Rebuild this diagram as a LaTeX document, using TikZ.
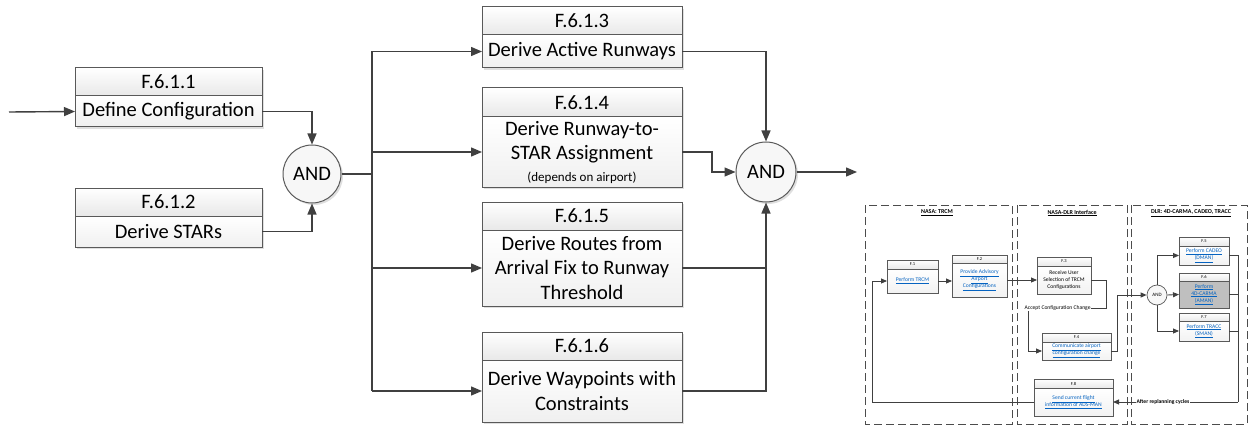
\documentclass[tikz,border=0pt]{standalone}
\usepackage{fontspec}
\setmainfont{Carlito}
\usetikzlibrary{arrows.meta,positioning,shadows}

\definecolor{wiregray}{HTML}{404040}
\definecolor{boxgray}{HTML}{595959}
\definecolor{linkblue}{HTML}{0563C1}
\newcommand{\lnk}[1]{\textcolor{linkblue}{\underline{#1}}}

\begin{document}
\begin{tikzpicture}[x=1pt,y=-1pt,>={Triangle[length=11pt,width=9pt]},
    wire/.style={draw=wiregray,line width=1.4pt},
    hdr/.style={draw=boxgray,line width=1pt,top color=white,bottom color=gray!18,
      minimum width=200,minimum height=28,inner sep=0pt,outer sep=0pt,anchor=north west,
      font=\fontsize{20.5}{24.5}\selectfont,
      drop shadow={shadow xshift=2pt,shadow yshift=-2pt,opacity=0.25}},
    body/.style={draw=boxgray,line width=1pt,top color=white,bottom color=gray!12,
      minimum width=200,align=center,inner sep=2pt,outer sep=0pt,
      font=\fontsize{20.5}{24.5}\selectfont,
      drop shadow={shadow xshift=2pt,shadow yshift=-2pt,opacity=0.25}},
    gate/.style={circle,draw=boxgray,line width=1pt,fill=gray!6,inner sep=0pt,
      font=\fontsize{20.5}{24.5}\selectfont,
      drop shadow={shadow xshift=2pt,shadow yshift=-2pt,opacity=0.25}},
    lane/.style={draw=gray!60!black,line width=1pt,dash pattern=on 8pt off 4pt},
    lanetitle/.style={font=\bfseries\fontsize{6}{7}\selectfont},
    iwire/.style={draw=wiregray,line width=0.9pt},
    ihdr/.style={draw=boxgray,line width=0.7pt,top color=white,bottom color=gray!18,
      inner sep=0pt,outer sep=0pt,anchor=north west,font=\fontsize{4.5}{5}\selectfont,
      drop shadow={shadow xshift=1pt,shadow yshift=-1pt,opacity=0.25}},
    ibody/.style={draw=boxgray,line width=0.7pt,top color=white,bottom color=gray!10,
      align=center,inner sep=1pt,outer sep=0pt,font=\fontsize{5.6}{7}\selectfont,
      drop shadow={shadow xshift=1pt,shadow yshift=-1pt,opacity=0.25}},
    igate/.style={circle,draw=boxgray,line width=0.7pt,fill=gray!6,inner sep=0pt,
      minimum size=20,font=\fontsize{5}{6}\selectfont},
    ilabel/.style={fill=white,inner sep=0.5pt,font=\fontsize{5.6}{7}\selectfont}]
\useasboundingbox (0,0) rectangle (1250,425);

% sub-functions of F.6.1
\coordinate (in) at (9,112);
\node[hdr,minimum width=187] (h611) at (75,68) {F.6.1.1};
\node[body,minimum width=187,minimum height=31,below=0pt of h611] (b611) {Define Configuration};
\node[hdr,minimum width=187] (h612) at (75,188) {F.6.1.2};
\node[body,minimum width=187,minimum height=31,below=0pt of h612] (b612) {Derive STARs};
\node[gate,minimum size=58] (and1) at (312,174) {AND};
\coordinate (bus) at (372,174);

\node[hdr] (h613) at (482,7) {F.6.1.3};
\node[body,minimum height=33,below=0pt of h613] (b613) {Derive Active Runways};
\node[hdr,minimum height=29] (h614) at (482,88) {F.6.1.4};
\node[body,minimum height=70,below=0pt of h614] (b614)
  {Derive Runway-to-\\STAR Assignment\\[-3pt]{\fontsize{13}{15}\selectfont (depends on airport)}};
\node[hdr] (h615) at (482,202) {F.6.1.5};
\node[body,minimum height=76,below=0pt of h615] (b615)
  {Derive Routes from\\Arrival Fix to Runway\\Threshold};
\node[hdr] (h616) at (482,332) {F.6.1.6};
\node[body,minimum height=62,below=0pt of h616] (b616) {Derive Waypoints with\\Constraints};
\node[gate,minimum size=60] (and2) at (766,172) {AND};
\coordinate (out) at (857,172);

\draw[wire,->] (in) -- (b611.west);
\draw[wire,->] (b611.east) -| (and1.north);
\draw[wire,->] (b612.east) -| (and1.south);
\draw[wire] (and1.east) -- (bus);
\draw[wire] (bus |- b613.west) -- (bus |- b616.west);
\foreach \b in {b613,b614,b615,b616}
  \draw[wire,->] (bus |- \b.west) -- (\b.west);
\draw[wire,->] (b613.east) -| (and2.north);
\draw[wire,->] (b614.east) -- ++(30,0) |- (and2.west);
\draw[wire] (b615.east) -- (b615.east -| and2.south);
\draw[wire,->] (b616.east) -| (and2.south);
\draw[wire,->] (and2.east) -- (out);

% overview of the F functions
\begin{scope}[>={Triangle[length=6pt,width=5pt]}]
\draw[lane] (865,205) rectangle (1012,424);
\draw[lane] (1017,205) rectangle (1127,424);
\draw[lane] (1131,205) rectangle (1247,424);
\node[lanetitle] (t1) at (937,213) {\underline{NASA: TRCM}};
\node[lanetitle] (t2) at (1072,213) {\underline{NASA-DLR Interface}};
\node[lanetitle] (t3) at (1191,213) {\underline{DLR: 4D-CARMA, CADEO, TRACC}};

\node[ihdr,minimum width=51,minimum height=9] (h1) at (887,260) {F.1};
\node[ibody,minimum width=51,minimum height=24,below=0pt of h1] (b1) {\lnk{Perform TRCM}};
\node[ihdr,minimum width=55,minimum height=8] (h2) at (952,255) {F.2};
\node[ibody,minimum width=55,minimum height=34,below=0pt of h2] (b2)
  {\lnk{Provide Advisory}\\\lnk{Airport}\\\lnk{Configurations}};
\node[ihdr,minimum width=54,minimum height=9] (h3) at (1037,257) {F.3};
\node[ibody,minimum width=54,minimum height=28,below=0pt of h3] (b3)
  {Receive User\\Selection of TRCM\\Configurations};
\node[ihdr,minimum width=69,minimum height=9] (h4) at (1042,333) {F.4};
\node[ibody,minimum width=69,minimum height=18,below=0pt of h4] (b4)
  {\lnk{Communicate airport}\\\lnk{configuration change}};
\node[ihdr,minimum width=79,minimum height=9] (h8) at (1034,379) {F.8};
\node[ibody,minimum width=79,minimum height=28,below=0pt of h8] (b8)
  {\lnk{Send current flight}\\\lnk{information of ADS-MAN}};
\node[igate] (and3) at (1157,295) {AND};
\node[ihdr,minimum width=50,minimum height=9] (h5) at (1179,237) {F.5};
\node[ibody,minimum width=50,minimum height=19,below=0pt of h5] (b5)
  {\lnk{Perform CADEO}\\\lnk{(DMAN)}};
\node[ihdr,minimum width=50,minimum height=8] (h6) at (1179,273) {F.6};
\node[ibody,minimum width=50,minimum height=27,below=0pt of h6,
  top color=gray!50,bottom color=gray!50] (b6)
  {\lnk{Perform}\\\lnk{4D-CARMA}\\\lnk{(AMAN)}};
\node[ihdr,minimum width=50,minimum height=8] (h7) at (1179,313) {F.7};
\node[ibody,minimum width=50,minimum height=20,below=0pt of h7] (b7)
  {\lnk{Perform TRACC}\\\lnk{(SMAN)}};

\coordinate (ret) at (872,402);
\coordinate (acc1) at (1106,308);
\coordinate (acc2) at (1028,308);
\coordinate (rt) at (1238,402);

\draw[iwire,->] (b8.west) -- (ret) |- (b1.west);
\draw[iwire,->] (b1.east) -- (b1.east -| b2.west);
\draw[iwire,->] (b2.east) -- (b2.east -| b3.west);
\draw[iwire,->] (b3.east) -| (acc1)
  -- node[ilabel,pos=0.62] {Accept Configuration Change} (acc2) |- (b4.west);
\draw[iwire,->] (b4.east) -- ++(6,0) |- (and3.west);
\draw[iwire,->] (and3.north) |- (b5.west);
\draw[iwire,->] (and3.east) -- (b6.west);
\draw[iwire,->] (and3.south) |- (b7.west);
\draw[iwire] (b5.east) -| (rt);
\draw[iwire] (b6.east) -- (b6.east -| rt);
\draw[iwire] (b7.east) -- (b7.east -| rt);
\draw[iwire,->] (rt) -- node[ilabel,pos=0.6,font=\bfseries\fontsize{5.6}{7}\selectfont]
  {After replanning cycles} (b8.east);
\end{scope}
\end{tikzpicture}
\end{document}
